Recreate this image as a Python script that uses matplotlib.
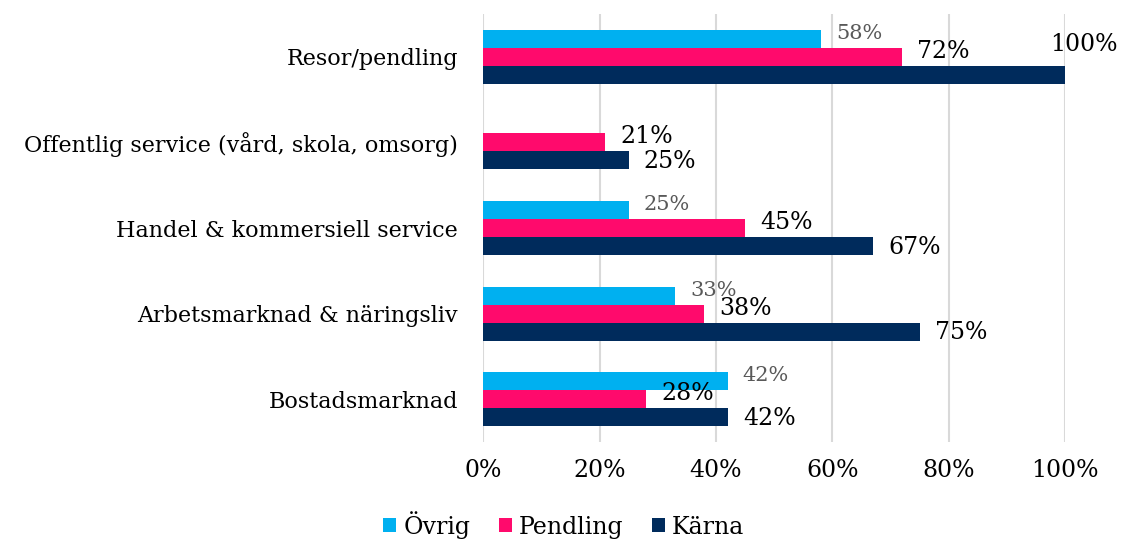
import matplotlib.pyplot as plt
import numpy as np

plt.rcParams['font.family'] = ['DejaVu Serif']

# Data (top to bottom as shown)
categories = ["Resor/pendling", "Offentlig service (vård, skola, omsorg)",
              "Handel & kommersiell service", "Arbetsmarknad & näringsliv",
              "Bostadsmarknad"]
ovrig = [58, 0, 25, 33, 42]
pendling = [72, 21, 45, 38, 28]
karna = [100, 25, 67, 75, 42]

series = [("Övrig", ovrig, "#00B0F0"),
          ("Pendling", pendling, "#FF0A6C"),
          ("Kärna", karna, "#002B5C")]

fig = plt.figure(figsize=(11.21, 5.41), dpi=100)
ax = fig.add_axes([0.431, 0.183, 0.519, 0.791])

y = np.arange(len(categories))
h = 0.21

for i, (name, vals, col) in enumerate(series):
    pos = y + (i - 1) * h
    ax.barh(pos, vals, height=h, color=col, label=name, zorder=3)
    for p, v in zip(pos, vals):
        if v == 0:
            continue
        if name == "Övrig":
            kw = dict(color="#595959", fontsize=15)
            dy = 4
        elif name == "Pendling":
            kw = dict(color="black", fontsize=17)
            dy = 4
        else:
            kw = dict(color="black", fontsize=17)
            dy = -1
        if v >= 100:
            ax.annotate(f"{v}%", (v, p), xytext=(-11, 22), textcoords="offset points",
                        va="center", ha="left", zorder=4, **kw)
        else:
            ax.annotate(f"{v}%", (v, p), xytext=(11, dy), textcoords="offset points",
                        va="center", ha="left", zorder=4, **kw)

ax.set_ylim(len(categories) - 0.5, -0.5)
ax.set_xlim(0, 100)
ax.set_xticks(np.arange(0, 101, 20))
ax.set_xticklabels([f"{t}%" for t in range(0, 101, 20)], fontsize=17)
ax.set_yticks(y)
ax.set_yticklabels(categories, fontsize=16)
ax.tick_params(length=0, pad=12)
ax.tick_params(axis="y", pad=18)
ax.grid(axis="x", color="#D9D9D9", linewidth=1.5, zorder=0)
for s in ax.spines.values():
    s.set_visible(False)

leg = fig.legend(loc="lower center", bbox_to_anchor=(0.503, -0.035), ncol=3,
                 frameon=False, fontsize=17, handlelength=0.55, handleheight=0.55,
                 handletextpad=0.3, columnspacing=1.2)

fig.savefig("out.png", dpi=100)
